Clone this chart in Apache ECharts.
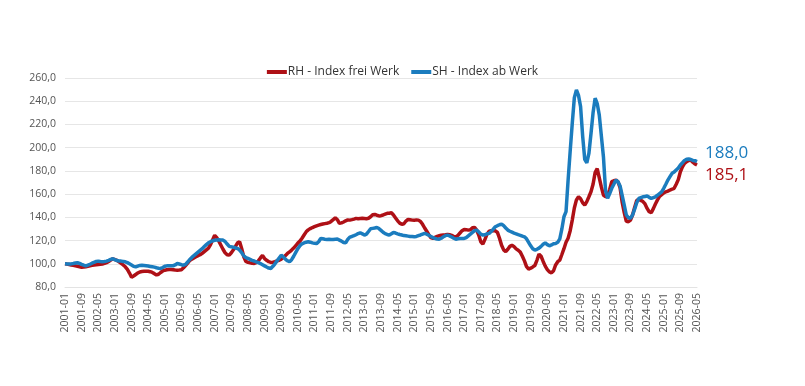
<!DOCTYPE html>
<html>
<head>
<meta charset="utf-8">
<script src="https://cdn.jsdelivr.net/npm/echarts@6/dist/echarts.min.js"></script>
<style>
  html, body { margin: 0; padding: 0; background: #fff; }
  #chart { width: 805px; height: 386px; }
</style>
</head>
<body>
<div id="chart"></div>
<script>
// Monatswerte 2001-01 .. 2026-05 (Index 2001-01 = 100)
var rhIndex = [
  100.0, 99.7, 99.4, 99.0, 98.6, 98.2, 97.8, 97.4, 97.0, 97.2, 97.5, 97.8,       // 2001
  98.2, 98.6, 99.0, 99.2, 99.4, 99.6, 99.8, 100.3, 101.0, 102.0, 103.2, 104.3,   // 2002
  103.6, 102.9, 101.6, 100.3, 99.0, 97.4, 95.2, 92.0, 88.5, 89.5, 90.8, 92.0,    // 2003
  93.0, 93.3, 93.5, 93.6, 93.6, 93.2, 92.5, 91.5, 90.4, 91.0, 92.5, 93.8,        // 2004
  94.5, 94.8, 95.0, 95.0, 94.8, 94.6, 94.5, 94.6, 94.8, 96.5, 98.5, 100.5,       // 2005
  102.8, 104.0, 105.0, 106.0, 107.0, 107.8, 109.0, 110.5, 112.0, 113.5, 116.5, 120.5, // 2006
  124.5, 122.5, 119.5, 116.0, 112.5, 109.5, 107.8, 107.5, 109.5, 112.0, 115.0, 118.0, // 2007
  119.0, 113.0, 106.0, 102.0, 101.2, 100.8, 100.4, 100.3, 101.0, 102.5, 105.0, 107.2, // 2008
  104.5, 103.0, 101.8, 101.2, 101.3, 101.8, 102.5, 103.0, 104.0, 105.5, 107.0, 108.9, // 2009
  110.2, 111.8, 113.5, 115.5, 117.8, 119.5, 122.0, 124.8, 127.5, 129.2, 130.3, 131.2, // 2010
  132.0, 132.7, 133.3, 133.8, 134.2, 134.6, 134.9, 135.4, 136.5, 138.0, 139.7, 138.0, // 2011
  134.8, 135.2, 136.0, 137.0, 137.8, 137.6, 138.0, 138.5, 139.1, 138.8, 139.0, 139.2, // 2012
  139.0, 138.8, 139.2, 140.5, 142.2, 142.5, 141.8, 141.2, 141.4, 142.0, 142.8, 143.5, // 2013
  143.5, 143.9, 142.0, 139.5, 137.0, 135.0, 134.0, 134.5, 136.8, 138.2, 137.9, 137.6, // 2014
  137.4, 137.8, 137.6, 136.5, 134.0, 130.8, 128.0, 125.0, 122.5, 121.8, 122.8, 123.6, // 2015
  124.1, 124.5, 124.8, 125.0, 125.3, 125.0, 124.5, 123.5, 123.2, 124.5, 126.5, 128.5, // 2016
  129.6, 129.4, 129.0, 129.3, 131.0, 131.3, 129.0, 124.8, 119.0, 117.0, 121.0, 125.5, // 2017
  128.0, 128.4, 128.5, 128.4, 127.0, 122.0, 116.0, 112.0, 110.5, 112.5, 115.0, 116.0, // 2018
  114.8, 112.8, 111.6, 110.0, 106.5, 102.5, 97.5, 95.5, 96.2, 97.3, 98.5, 103.0,      // 2019
  108.3, 106.5, 102.0, 98.0, 95.0, 93.0, 92.2, 94.0, 99.0, 101.8, 103.2, 108.0,       // 2020
  113.0, 118.5, 122.0, 128.5, 137.6, 148.0, 155.0, 157.7, 156.0, 152.5, 150.6, 153.5, // 2021
  157.7, 162.0, 168.5, 178.5, 182.0, 174.0, 166.0, 159.2, 157.7, 158.5, 164.0, 170.7, // 2022
  171.5, 172.0, 170.5, 165.5, 153.0, 144.0, 136.5, 136.2, 137.6, 142.0, 148.5, 154.5, // 2023
  155.2, 154.6, 153.6, 151.5, 147.7, 144.8, 144.0, 147.5, 151.5, 155.0, 158.0, 159.5, // 2024
  161.0, 162.0, 162.6, 163.5, 164.2, 165.0, 168.5, 172.5, 179.3, 183.5, 186.5, 188.0, // 2025
  189.0, 189.4, 187.5, 186.0, 185.1                                                   // 2026
];

var shIndex = [
  100.0, 99.9, 99.8, 99.9, 100.2, 100.6, 100.9, 100.3, 99.5, 98.8, 98.2, 98.8,   // 2001
  99.6, 100.5, 101.3, 102.0, 102.3, 102.0, 101.8, 101.9, 102.3, 103.0, 103.8, 104.3, // 2002
  103.5, 102.8, 102.4, 102.3, 102.0, 101.7, 101.0, 100.0, 99.0, 97.8, 97.3, 98.0,  // 2003
  98.6, 98.8, 98.6, 98.3, 98.0, 97.7, 97.4, 97.1, 96.6, 96.2, 96.0, 96.8,          // 2004
  97.8, 98.2, 98.2, 98.2, 98.3, 99.0, 100.2, 99.8, 99.2, 98.8, 99.5, 101.5,        // 2005
  103.7, 105.5, 107.0, 108.5, 110.0, 111.5, 113.0, 114.8, 116.5, 118.0, 119.0, 119.8, // 2006
  120.3, 120.5, 120.6, 120.5, 120.4, 119.2, 117.0, 115.0, 114.6, 114.3, 113.6, 113.2, // 2007
  111.8, 109.5, 106.8, 105.3, 104.6, 103.8, 103.0, 102.4, 101.6, 101.0, 100.2, 99.2,  // 2008
  98.2, 97.2, 96.3, 96.0, 97.8, 100.0, 102.5, 105.0, 107.4, 106.0, 104.0, 102.6,      // 2009
  101.7, 103.5, 106.5, 109.8, 113.0, 115.5, 117.2, 118.0, 118.6, 119.0, 118.6, 118.0, // 2010
  117.6, 117.4, 119.0, 121.8, 121.5, 121.2, 121.0, 121.2, 121.0, 121.0, 121.2, 121.3, // 2011
  120.4, 119.5, 118.3, 118.0, 121.0, 123.0, 123.5, 124.2, 125.0, 126.0, 126.7, 125.8, // 2012
  124.7, 125.5, 127.8, 130.2, 130.5, 130.8, 131.3, 130.3, 128.8, 127.2, 126.0, 125.2, // 2013
  124.7, 125.8, 127.0, 126.5, 125.8, 125.2, 124.8, 124.3, 124.1, 123.8, 123.5, 123.4, // 2014
  123.2, 123.5, 124.2, 124.8, 125.5, 126.2, 125.5, 124.5, 123.5, 122.5, 121.8, 121.4, // 2015
  121.2, 122.0, 123.2, 124.2, 124.7, 124.0, 123.0, 122.0, 121.2, 121.5, 121.8, 121.8, // 2016
  121.8, 122.5, 124.0, 125.5, 127.0, 128.5, 129.0, 127.5, 125.5, 124.7, 125.0, 125.8, // 2017
  126.2, 127.8, 129.8, 131.9, 132.8, 133.6, 134.2, 132.8, 130.8, 129.0, 128.0, 127.2, // 2018
  126.4, 125.8, 125.1, 124.5, 123.8, 123.2, 121.5, 118.5, 115.5, 113.0, 111.8, 112.5, // 2019
  113.5, 115.0, 116.8, 118.0, 116.5, 115.5, 116.2, 117.2, 117.5, 118.5, 121.5, 130.0, // 2020
  140.5, 145.0, 172.0, 197.0, 221.0, 243.0, 249.8, 245.0, 235.4, 210.0, 190.0, 187.0, // 2021
  195.0, 212.0, 230.0, 242.6, 238.0, 228.0, 210.0, 192.0, 163.0, 156.3, 160.5, 165.0, // 2022
  168.5, 172.1, 170.5, 167.0, 159.0, 150.5, 142.0, 139.8, 139.1, 142.0, 147.0, 152.5, // 2023
  156.3, 157.0, 157.7, 158.0, 158.3, 157.2, 156.3, 157.0, 157.7, 159.0, 160.5, 162.0, // 2024
  165.0, 168.5, 172.1, 175.0, 177.9, 179.0, 180.8, 182.5, 185.1, 187.0, 189.0, 190.0, // 2025
  190.2, 189.8, 189.0, 188.8, 188.0                                                   // 2026
];

// Achsenbeschriftung: Monate als "JJJJ-MM"
var months = [];
for (var y = 2001; y <= 2026; y++) {
  for (var m = 1; m <= 12; m++) {
    if (y == 2026 && m > 5) break;
    months.push(y + '-' + (m < 10 ? '0' + m : m));
  }
}

var RED = '#AE1016';
var BLUE = '#1B7CBE';
var FONT = "'Open Sans', sans-serif";

function komma(v) {
  return v.toFixed(1).replace('.', ',');
}

var myChart = echarts.init(document.getElementById('chart'));
var option = {
  animation: false,
  textStyle: { fontFamily: FONT },
  legend: {
    top: 61,
    left: 'center',
    itemWidth: 20,
    itemHeight: 4,
    itemGap: 12,
    icon: 'rect',
    textStyle: { fontSize: 12, color: '#333', padding: [0, 0, 0, -4] },
    data: ['RH - Index frei Werk', 'SH - Index ab Werk']
  },
  grid: {
    left: 65,
    right: 108,
    top: 78,
    bottom: 99
  },
  xAxis: {
    type: 'category',
    data: months,
    boundaryGap: false,
    axisLine: { show: true, lineStyle: { color: '#e3e3e3' } },
    axisTick: { show: false },
    axisLabel: {
      interval: 7,
      rotate: 90,
      fontSize: 10.5,
      color: '#555',
      margin: 6
    },
    splitLine: { show: false }
  },
  yAxis: {
    type: 'value',
    min: 80,
    max: 260,
    interval: 20,
    axisLine: { show: false },
    axisTick: { show: false },
    axisLabel: {
      fontSize: 10.5,
      color: '#555',
      margin: 9,
      formatter: function (v) { return komma(v); }
    },
    splitLine: { lineStyle: { color: '#e6e6e6' } }
  },
  series: [
    {
      name: 'RH - Index frei Werk',
      type: 'line',
      data: rhIndex,
      showSymbol: false,
      symbol: 'none',
      color: RED,
      lineStyle: { width: 3.5, color: RED },
      endLabel: {
        show: true,
        offset: [0, 10],
        fontSize: 17,
        color: RED,
        formatter: function (p) { return komma(p.value); }
      }
    },
    {
      name: 'SH - Index ab Werk',
      type: 'line',
      data: shIndex,
      showSymbol: false,
      symbol: 'none',
      color: BLUE,
      lineStyle: { width: 3.5, color: BLUE },
      endLabel: {
        show: true,
        offset: [0, -8],
        fontSize: 17,
        color: BLUE,
        formatter: function (p) { return komma(p.value); }
      }
    }
  ]
};
myChart.setOption(option);
</script>
</body>
</html>
